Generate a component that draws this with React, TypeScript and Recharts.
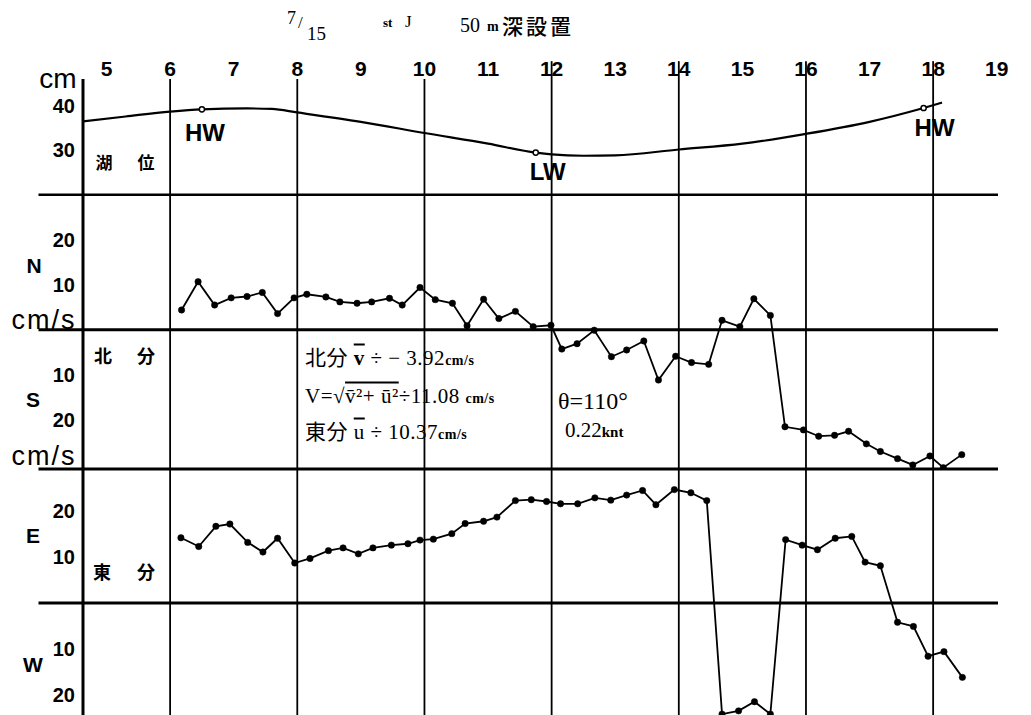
import React from 'react'
import { LineChart, Line, XAxis, YAxis, ReferenceLine, ReferenceDot } from 'recharts'

// hour-of-day axis (top)
const hourTicks = [5, 6, 7, 8, 9, 10, 11, 12, 13, 14, 15, 16, 17, 18, 19]
const gridHours = [6, 8, 10, 12, 14, 16, 18]

// 潮位 cm
const tideHours = [4.63, 5.3, 6, 6.5, 7.2, 7.6, 8, 9, 10, 11, 11.75, 12, 12.5, 13, 14, 15, 16, 17, 17.85, 18.14]
const tideLevels = [36.5, 37.6, 38.7, 39.2, 39.4, 39.3, 38.5, 36.4, 33.9, 31.5, 29.5, 29.1, 28.8, 28.9, 30.2, 31.5, 33.7, 36.4, 39.5, 40.7]
const tideTicks = [30, 40]

// high / low water marks
const markHours = [6.5, 11.75, 17.85]
const markLevels = [39.2, 29.5, 39.5]
const markNames = ['HW', 'LW', 'HW']

// 北分  N(+) / S(-)  cm/s
const nsHours = [
  6.18, 6.44, 6.7, 6.96, 7.21, 7.45, 7.69, 7.95, 8.15, 8.45, 8.67, 8.94, 9.17, 9.45, 9.65, 9.93,
  10.17, 10.44, 10.67, 10.93, 11.17, 11.43, 11.71, 11.99, 12.16, 12.4, 12.67, 12.94, 13.18, 13.45,
  13.68, 13.95, 14.2, 14.47, 14.68, 14.96, 15.18, 15.44, 15.67, 15.96, 16.2, 16.45, 16.67, 16.95,
  17.17, 17.44, 17.68, 17.95, 18.16, 18.45,
]
const nsSpeeds = [
  4.4, 10.7, 5.5, 7.1, 7.4, 8.3, 3.6, 7.1, 7.9, 7.3, 6.2, 5.9, 6.2, 7.0, 5.5, 9.4,
  6.7, 5.9, 0.9, 6.8, 2.5, 4.1, 0.7, 1.0, -4.3, -3.1, -0.1, -6.0, -4.5, -2.5,
  -11.2, -5.9, -7.3, -7.7, 2.1, 0.7, 6.9, 3.2, -21.6, -22.3, -23.7, -23.5, -22.6, -25.4,
  -27.1, -28.7, -30.1, -28.1, -30.7, -27.8,
]

// 東分  E(+) / W(-)  cm/s
const ewHours = [
  6.17, 6.45, 6.72, 6.94, 7.22, 7.46, 7.69, 7.96, 8.2, 8.49, 8.72, 8.96, 9.19, 9.48, 9.74, 9.93,
  10.14, 10.43, 10.64, 10.93, 11.14, 11.43, 11.68, 11.92, 12.14, 12.41, 12.68, 12.93, 13.18, 13.43,
  13.64, 13.93, 14.19, 14.44, 14.68, 14.94, 15.19, 15.44, 15.68, 15.94, 16.18, 16.46, 16.72, 16.93,
  17.17, 17.44, 17.69, 17.92, 18.17, 18.46,
]
const ewSpeeds = [
  14.2, 12.3, 16.7, 17.2, 13.2, 11.1, 14.1, 8.7, 9.7, 11.4, 12.0, 10.7, 12.0, 12.6, 12.9, 13.7,
  13.9, 15.1, 17.3, 17.8, 18.7, 22.3, 22.5, 22.1, 21.6, 21.6, 22.9, 22.4, 23.5, 24.5,
  21.4, 24.7, 24.0, 22.3, -24.2, -23.5, -21.5, -24.2, 13.8, 12.6, 11.6, 14.1, 14.5, 8.9,
  8.1, -4.2, -5.1, -11.6, -10.6, -16.2,
]
const speedTicks = [20, 10, -10, -20]

const tideData = tideHours.map((h, i) => ({ h, v: tideLevels[i] }))
const nsData = nsHours.map((h, i) => ({ h, v: nsSpeeds[i] }))
const ewData = ewHours.map((h, i) => ({ h, v: ewSpeeds[i] }))

const W = 1031
const X_DOMAIN: [number, number] = [4.63, 19.02]
const RULE_START = 3.93
const SANS = '"Liberation Sans", Arial, sans-serif'
const SERIF = '"Liberation Serif", "DejaVu Serif", "Noto Sans CJK JP", serif'
const CJK = '"Noto Sans CJK JP", sans-serif'

const numTick = { fontSize: 20, fontWeight: 700, fill: '#000', fontFamily: SANS }
const abs = (v: number) => String(Math.abs(v))

function Txt({ x, y, size = 18, weight = 400, family = SANS, anchor = 'start', style, children }: any) {
  const tx = anchor === 'middle' ? '-50%' : anchor === 'end' ? '-100%' : '0'
  return (
    <div
      style={{
        position: 'absolute',
        left: x,
        top: y,
        transform: `translate(${tx}, -50%)`,
        fontSize: size,
        fontWeight: weight,
        fontFamily: family,
        lineHeight: 1,
        whiteSpace: 'nowrap',
        color: '#000',
        ...style,
      }}
    >
      {children}
    </div>
  )
}

const markOffsets = [
  { dx: 3, dy: 23 },
  { dx: 12, dy: 19 },
  { dx: 11, dy: 19 },
]

function markLabel(name: string, dx: number, dy: number) {
  return (props: any) => {
    const vb = props.viewBox || {}
    const cx = (vb.x || 0) + (vb.width || 0) / 2
    const cy = (vb.y || 0) + (vb.height || 0) / 2
    return (
      <text x={cx + dx} y={cy + dy} textAnchor="middle" dominantBaseline="central" fontSize={24} fontWeight={700} fontFamily={SANS} fill="#000">
        {name}
      </text>
    )
  }
}

function gridLines(top?: (h: number) => number, bottom?: number) {
  return gridHours.map((h) =>
    top ? (
      <ReferenceLine key={h} segment={[{ x: h, y: top(h) }, { x: h, y: bottom as number }]} ifOverflow="visible" stroke="#000" strokeWidth={1.8} />
    ) : (
      <ReferenceLine key={h} x={h} stroke="#000" strokeWidth={1.8} />
    )
  )
}

function rule(y: number) {
  return (
    <ReferenceLine
      segment={[{ x: RULE_START, y }, { x: X_DOMAIN[1], y }]}
      ifOverflow="visible"
      stroke="#000"
      strokeWidth={3}
    />
  )
}

const unit = { fontSize: 14, fontWeight: 700 }

export default function App() {
  return (
    <div style={{ position: 'absolute', left: 0, top: 0, width: W, height: 715, background: '#fff', overflow: 'hidden' }}>
      {/* 潮位 */}
      <div style={{ position: 'absolute', left: 0, top: 0 }}>
        <LineChart width={W} height={196} data={tideData} margin={{ top: 49, right: 33, bottom: 1, left: 0 }}>
          <XAxis
            dataKey="h"
            type="number"
            orientation="top"
            domain={X_DOMAIN}
            allowDataOverflow
            ticks={hourTicks}
            height={30}
            axisLine={false}
            tickLine={false}
            tickSize={0}
            tickMargin={3}
            tick={{ fontSize: 21, fontWeight: 700, fill: '#000', fontFamily: SANS }}
            interval={0}
          />
          <YAxis
            type="number"
            domain={[20, 46]}
            allowDataOverflow
            ticks={tideTicks}
            width={83}
            axisLine={{ stroke: '#000', strokeWidth: 3 }}
            tickLine={false}
            tickSize={0}
            tickMargin={8}
            tick={numTick}
          />
          {gridLines((h) => (h >= 12 ? 50 : 46), 20)}
          {rule(20)}
          <Line type="monotone" dataKey="v" stroke="#000" strokeWidth={2.2} dot={false} isAnimationActive={false} />
          {markHours.map((h, i) => (
            <ReferenceDot
              key={i}
              x={h}
              y={markLevels[i]}
              r={2.6}
              fill="#fff"
              stroke="#000"
              strokeWidth={1.5}
              label={{ content: markLabel(markNames[i], markOffsets[i].dx, markOffsets[i].dy) }}
            />
          ))}
        </LineChart>
      </div>

      {/* 北分 N / S */}
      <div style={{ position: 'absolute', left: 0, top: 195 }}>
        <LineChart width={W} height={276} data={nsData} margin={{ top: 0, right: 33, bottom: 2, left: 0 }}>
          <XAxis dataKey="h" type="number" domain={X_DOMAIN} allowDataOverflow hide />
          <YAxis
            type="number"
            domain={[-31, 30]}
            allowDataOverflow
            ticks={speedTicks}
            tickFormatter={abs}
            width={83}
            axisLine={{ stroke: '#000', strokeWidth: 3 }}
            tickLine={false}
            tickSize={0}
            tickMargin={8}
            tick={numTick}
          />
          {gridLines()}
          {rule(0)}
          {rule(-31)}
          <Line
            type="linear"
            dataKey="v"
            stroke="#000"
            strokeWidth={1.8}
            dot={{ r: 3.2, fill: '#000', stroke: '#000', strokeWidth: 0.5 }}
            isAnimationActive={false}
          />
        </LineChart>
      </div>

      {/* 東分 E / W */}
      <div style={{ position: 'absolute', left: 0, top: 468 }}>
        <LineChart width={W} height={247} data={ewData} margin={{ top: 0, right: 33, bottom: 0, left: 0 }}>
          <XAxis dataKey="h" type="number" domain={X_DOMAIN} allowDataOverflow hide />
          <YAxis
            type="number"
            domain={[-24.4, 29.4]}
            allowDataOverflow
            ticks={speedTicks}
            tickFormatter={abs}
            width={83}
            axisLine={{ stroke: '#000', strokeWidth: 3 }}
            tickLine={false}
            tickSize={0}
            tickMargin={8}
            tick={numTick}
          />
          {gridLines()}
          {rule(0)}
          <Line
            type="linear"
            dataKey="v"
            stroke="#000"
            strokeWidth={1.8}
            dot={{ r: 3.2, fill: '#000', stroke: '#000', strokeWidth: 0.5 }}
            isAnimationActive={false}
          />
        </LineChart>
      </div>

      {/* title */}
      <Txt x={287} y={18} size={18} family={SERIF}>7</Txt>
      <Txt x={298} y={22} size={17} family={SERIF}>/</Txt>
      <Txt x={307} y={33} size={19} family={SERIF}>15</Txt>
      <Txt x={383} y={22} size={13} weight={700} family={SERIF}>st</Txt>
      <Txt x={405} y={21} size={17} family={SERIF}>J</Txt>
      <Txt x={460} y={25} size={20} family={SERIF}>50</Txt>
      <Txt x={487} y={27} size={14} weight={700} family={SERIF}>m</Txt>
      <Txt x={502} y={25} size={21} weight={500} family={CJK} style={{ letterSpacing: 3 }}>深設置</Txt>

      {/* axis words */}
      <Txt x={58} y={79} size={28} anchor="middle">cm</Txt>
      <Txt x={104} y={161} size={17} weight={700} family={CJK} anchor="middle">湖</Txt>
      <Txt x={146} y={161} size={17} weight={700} family={CJK} anchor="middle">位</Txt>

      <Txt x={34} y={265} size={21} weight={700} anchor="middle">N</Txt>
      <Txt x={44} y={320} size={27} anchor="middle" style={{ letterSpacing: 2 }}>cm/s</Txt>
      <Txt x={33} y={399} size={21} weight={700} anchor="middle">S</Txt>
      <Txt x={44} y={456} size={27} anchor="middle" style={{ letterSpacing: 2 }}>cm/s</Txt>
      <Txt x={33} y={535} size={21} weight={700} anchor="middle">E</Txt>
      <Txt x={33} y={664} size={21} weight={700} anchor="middle">W</Txt>

      <Txt x={103} y={355} size={18} weight={700} family={CJK} anchor="middle">北</Txt>
      <Txt x={146} y={355} size={18} weight={700} family={CJK} anchor="middle">分</Txt>
      <Txt x={102} y={571} size={18} weight={700} family={CJK} anchor="middle">東</Txt>
      <Txt x={146} y={571} size={18} weight={700} family={CJK} anchor="middle">分</Txt>

      {/* mean current */}
      <Txt x={305} y={358} size={21} family={SERIF} style={{ letterSpacing: 0.5 }}>
        北分 <span style={{ textDecoration: 'overline', fontWeight: 700 }}>v</span> ÷ − 3.92<span style={unit}>cm/s</span>
      </Txt>
      <Txt x={305} y={396} size={21} family={SERIF} style={{ letterSpacing: 0.5 }}>
        V=√<span style={{ textDecoration: 'overline' }}>v̄²+ ū²</span>÷11.08 <span style={unit}>cm/s</span>
      </Txt>
      <Txt x={305} y={432} size={21} family={SERIF} style={{ letterSpacing: 0.5 }}>
        東分 <span style={{ textDecoration: 'overline' }}>u</span> ÷ 10.37<span style={unit}>cm/s</span>
      </Txt>
      <Txt x={558} y={401} size={24} family={SERIF}>θ=110°</Txt>
      <Txt x={565} y={430} size={21} family={SERIF}>
        0.22<span style={{ fontSize: 15, fontWeight: 700 }}>knt</span>
      </Txt>
    </div>
  )
}
